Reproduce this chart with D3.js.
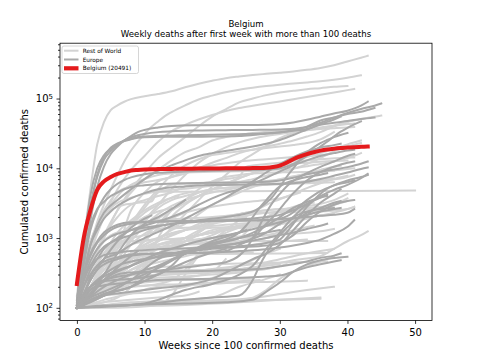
<!DOCTYPE html>
<html>
<head>
<meta charset="utf-8">
<script src="https://cdn.jsdelivr.net/npm/d3@7"></script>
<style>
  body { margin: 0; background: #fff; }
  svg { font-family: "DejaVu Sans", sans-serif; }
</style>
</head>
<body>
<div id="chart"></div>
<script>
'use strict';

// ---- data: cumulated deaths, [week since 100 deaths, deaths] ----
var belgiumDeaths = [220, 1000, 2500, 4900, 6500, 7500, 8300, 8800, 9300, 9480, 9600, 9680,
  9740, 9780, 9810, 9840, 9860, 9880, 9900, 9920, 9940, 9960, 9980, 10000, 10020, 10040,
  10070, 10110, 10200, 10450, 10950, 12000, 13500, 14800, 16000, 17000, 17900, 18600,
  19100, 19500, 19800, 20100, 20300, 20491];

var europe = [
  {name: 'Italy', pts: [[0,110],[1,830],[2,3000],[3,7500],[4,13200],[5,17700],[6,21600],[7,25100],[8,27700],[9,29700],[10,31100],[12,33000],[14,33900],[17,34700],[22,35200],[26,35500],[30,36000],[32,36800],[34,39000],[36,45000],[38,53000],[40,62000],[42,71000],[44,79000],[45,85000]]},
  {name: 'United Kingdom', pts: [[0,100],[1,450],[2,1800],[3,5400],[4,10600],[5,16000],[6,20500],[7,25000],[8,29000],[9,33000],[10,35500],[12,38500],[14,40500],[17,41500],[24,41800],[28,42200],[30,43200],[32,45500],[34,49500],[36,55000],[38,61000],[40,67000],[42,79000],[43,90000]]},
  {name: 'France', pts: [[0,130],[1,670],[2,2600],[3,8000],[4,14400],[5,19700],[6,22800],[7,24800],[8,26400],[9,28000],[10,28500],[12,29100],[16,29800],[20,30300],[24,30800],[28,31700],[30,32800],[32,35000],[34,39500],[36,48500],[38,53500],[40,60000],[42,64500],[44,73000]]},
  {name: 'Spain', pts: [[0,120],[1,830],[2,4100],[3,10000],[4,15400],[5,19100],[6,22000],[7,24500],[8,26000],[9,27300],[10,27900],[14,28300],[20,28500],[24,29000],[26,30000],[28,31400],[30,32600],[32,34500],[34,36500],[36,42000],[38,45000],[40,47500],[42,50800],[44,53500]]},
  {name: 'Germany', pts: [[0,100],[1,400],[2,1300],[3,2500],[4,3800],[5,5000],[6,6000],[7,6800],[8,7400],[10,8200],[12,8600],[16,9000],[20,9200],[24,9400],[28,9600],[30,10000],[31,10600],[32,11600],[33,13000],[34,15000],[35,17500],[36,20500],[37,24000],[38,28500],[39,33500],[40,38000],[41,42500],[42,47000]]},
  {name: 'Netherlands', pts: [[0,110],[1,550],[2,1500],[3,2600],[4,3300],[5,4000],[6,4500],[7,5000],[8,5400],[10,5700],[12,5900],[16,6100],[24,6250],[28,6400],[30,6700],[32,7300],[34,8200],[36,8900],[38,9600],[40,10400],[42,11600],[43,12500]]},
  {name: 'Sweden', pts: [[0,110],[1,300],[2,800],[3,1300],[4,1900],[5,2400],[6,2900],[7,3300],[8,3700],[10,4400],[12,5000],[16,5500],[20,5750],[28,5900],[32,6100],[34,6400],[36,7000],[38,7800],[40,8700],[42,9800],[43,10300]]},
  {name: 'Switzerland', pts: [[0,100],[1,300],[2,600],[3,900],[4,1200],[5,1400],[6,1550],[8,1680],[12,1720],[20,1760],[28,1800],[30,1900],[31,2050],[32,2350],[33,2900],[34,3500],[35,4100],[36,4700],[37,5200],[38,5700],[40,6700],[42,7500],[43,8000]]},
  {name: 'Portugal', pts: [[0,100],[1,260],[2,470],[3,700],[4,900],[5,1050],[6,1150],[8,1300],[12,1500],[16,1650],[20,1750],[24,1850],[28,2000],[30,2150],[32,2500],[34,3100],[36,4000],[38,4900],[40,5800],[42,7200],[43,8300]]},
  {name: 'Ireland', pts: [[0,100],[1,300],[2,550],[3,850],[4,1100],[5,1300],[6,1450],[8,1600],[10,1700],[15,1750],[20,1780],[26,1800],[28,1830],[30,1860],[32,1920],[34,2000],[36,2080],[38,2150],[40,2300],[41,2600]]},
  {name: 'Austria', pts: [[0,100],[1,240],[2,400],[3,500],[4,570],[6,620],[8,650],[12,690],[20,730],[24,760],[28,850],[30,950],[31,1200],[32,1600],[33,2100],[34,2800],[35,3500],[36,4300],[37,5100],[38,5700],[40,6300],[41,6700]]},
  {name: 'Denmark', pts: [[0,100],[1,200],[2,300],[3,400],[4,460],[6,530],[8,580],[12,600],[20,620],[24,650],[28,690],[30,730],[32,780],[34,850],[36,950],[38,1150],[40,1450],[41,1800]]},
  {name: 'Poland', pts: [[0,100],[1,260],[2,400],[3,580],[4,750],[6,950],[8,1100],[10,1300],[14,1600],[18,1800],[22,2000],[26,2400],[27,2700],[28,3200],[29,4000],[30,5400],[31,7500],[32,10000],[33,13300],[34,17000],[35,20000],[36,23000],[37,25500],[38,28000],[40,32000]]},
  {name: 'Romania', pts: [[0,100],[1,200],[2,350],[3,500],[4,700],[6,1000],[8,1300],[10,1500],[14,2000],[16,2400],[18,3000],[20,3700],[22,4400],[24,5000],[26,6000],[28,7300],[30,9000],[32,11000],[34,13000],[36,15000],[38,16500],[40,18000],[41,18500]]},
  {name: 'Russia', pts: [[0,110],[1,300],[2,800],[3,1500],[4,2300],[6,3500],[8,5000],[10,7000],[12,9200],[14,11000],[16,13000],[18,15000],[20,16500],[24,19000],[26,20500],[28,22500],[30,25500],[32,30000],[34,36000],[36,43000],[38,50000],[39,55000]]},
  {name: 'Ukraine', pts: [[0,100],[1,150],[2,280],[3,400],[4,500],[6,600],[8,800],[10,1000],[14,1500],[18,2400],[22,3800],[24,5000],[26,6500],[28,8700],[30,11500],[32,14500],[34,17500],[36,19800],[38,21500],[39,22500]]},
  {name: 'Czechia', pts: [[0,100],[1,160],[2,200],[3,230],[4,250],[8,300],[12,340],[16,380],[20,420],[22,450],[24,560],[25,700],[26,1000],[27,1500],[28,2300],[29,3300],[30,4300],[31,5500],[32,6600],[34,8500],[36,10500],[38,12500],[40,15000],[41,16000]]},
  {name: 'Hungary', pts: [[0,100],[1,150],[2,250],[3,350],[4,420],[6,500],[8,560],[12,600],[20,620],[22,650],[24,800],[26,1000],[28,1600],[29,2000],[30,2600],[31,3400],[32,4400],[33,5500],[34,6700],[35,7800],[36,8800],[38,10500],[40,12000],[41,12500]]},
  {name: 'Serbia', pts: [[0,100],[1,150],[2,200],[4,240],[8,260],[12,300],[14,400],[16,600],[20,700],[24,740],[28,780],[30,850],[32,1100],[34,1700],[36,2400],[38,3000],[40,3400],[41,3500]]},
  {name: 'Greece', pts: [[0,100],[1,110],[2,130],[4,150],[8,170],[12,190],[16,210],[20,260],[24,400],[26,500],[28,600],[30,800],[32,1300],[34,2100],[36,3200],[38,4300],[39,5000]]},
  {name: 'Bulgaria', pts: [[0,100],[2,140],[4,170],[8,250],[12,370],[16,600],[20,850],[22,950],[24,1200],[25,1500],[26,2000],[27,2700],[28,3500],[29,4500],[30,5500],[32,6700],[34,7500],[36,8100],[37,8500]]},
  {name: 'Belarus', pts: [[0,100],[1,150],[2,200],[4,280],[8,400],[12,550],[16,650],[20,750],[24,850],[28,1000],[30,1100],[32,1200],[34,1350],[36,1500],[37,1600]]},
  {name: 'Moldova', pts: [[0,100],[2,150],[4,250],[8,400],[12,600],[16,800],[20,1000],[24,1200],[28,1500],[32,1900],[36,2400],[39,2700]]},
  {name: 'Finland', pts: [[0,100],[1,130],[2,180],[3,210],[4,240],[6,300],[8,320],[12,330],[20,340],[24,350],[28,370],[32,420],[34,460],[36,520],[38,560],[39,600]]},
  {name: 'Norway', pts: [[0,100],[1,140],[2,180],[3,200],[4,210],[8,230],[12,250],[20,260],[28,280],[30,290],[32,330],[34,380],[36,420],[38,460],[39,480]]},
  {name: 'Croatia', pts: [[0,100],[8,110],[10,115],[12,130],[16,180],[20,220],[24,300],[26,400],[28,700],[30,1200],[32,2000],[34,3000],[36,3800],[37,4200]]},
  {name: 'Slovenia', pts: [[0,100],[4,108],[8,110],[16,130],[20,140],[24,150],[26,250],[27,400],[28,600],[30,1100],[32,1700],[34,2300],[36,2700],[38,3200],[39,3400]]},
  {name: 'Bosnia', pts: [[0,100],[2,130],[4,160],[8,200],[12,380],[16,600],[20,800],[24,1000],[28,1500],[30,2000],[32,2700],[34,3300],[36,3800],[37,4000]]},
  {name: 'North Macedonia', pts: [[0,100],[2,120],[4,150],[8,250],[12,500],[16,650],[20,750],[24,850],[28,1200],[30,1600],[32,2000],[34,2400],[36,2600],[38,2700]]},
  {name: 'Luxembourg', pts: [[0,100],[4,105],[8,110],[16,115],[22,120],[26,130],[28,170],[30,230],[32,330],[34,420],[36,480],[40,540]]},
  {name: 'Slovakia', pts: [[0,100],[2,160],[4,300],[6,600],[8,1100],[10,1600],[12,2000],[14,2600],[16,3500]]},
  {name: 'Lithuania', pts: [[0,100],[2,250],[4,500],[6,900],[8,1400],[10,1900],[11,2100]]},
  {name: 'Albania', pts: [[0,100],[4,200],[8,300],[12,400],[16,600],[20,900],[24,1200],[25,1300]]},
  {name: 'Kosovo', pts: [[0,100],[2,200],[4,300],[6,400],[10,500],[16,600],[20,800],[24,1000],[28,1200],[30,1300]]},
  {name: 'Montenegro', pts: [[0,100],[4,150],[8,200],[12,300],[16,450],[20,620],[22,700]]},
  {name: 'Latvia', pts: [[0,100],[4,250],[8,550],[9,650]]}
];

var restOfWorld = [
  {name: 'United States', pts: [[0,150],[1,900],[2,5000],[3,22000],[4,46000],[5,68000],[6,80000],[7,90000],[8,98000],[10,108000],[12,116000],[14,127000],[16,145000],[18,163000],[20,180000],[22,196000],[24,207000],[26,217000],[28,226000],[30,235000],[32,245000],[34,258000],[36,275000],[38,300000],[40,340000],[42,385000],[43,410000]]},
  {name: 'Brazil', pts: [[0,110],[1,300],[2,800],[3,1700],[4,3000],[5,5000],[6,8000],[7,12500],[8,18000],[9,24000],[10,31000],[11,39000],[12,47000],[13,56000],[14,64000],[16,80000],[18,97000],[20,110000],[22,123000],[24,134000],[26,143000],[28,151000],[30,158000],[32,164000],[34,170000],[36,177000],[38,186000],[40,198000],[42,215000]]},
  {name: 'India', pts: [[0,100],[2,400],[4,1100],[6,2500],[8,5000],[10,8500],[12,14000],[14,20000],[16,28000],[18,40000],[20,55000],[22,70000],[24,88000],[26,100000],[28,112000],[30,122000],[32,129000],[34,136000],[36,141000],[38,147000],[40,151000]]},
  {name: 'Mexico', pts: [[0,100],[2,600],[4,2000],[6,5000],[8,9500],[10,15000],[12,24000],[14,34000],[16,42000],[18,50000],[20,58000],[22,66000],[24,73000],[26,79000],[28,85000],[30,91000],[32,98000],[34,105000],[36,113000],[38,122000],[40,132000],[41,137000]]},
  {name: 'Iran', pts: [[0,110],[1,400],[2,900],[3,1500],[4,2500],[5,3500],[6,4500],[8,5500],[10,6300],[12,6800],[14,7500],[16,8400],[18,10000],[20,12000],[22,14000],[24,16500],[26,18500],[28,20500],[30,22500],[32,25000],[34,28500],[36,33000],[38,40000],[40,46000],[42,51000],[44,55000],[45,57000]]},
  {name: 'Peru', pts: [[0,100],[2,400],[4,1000],[6,2500],[8,4500],[10,7000],[12,9500],[14,13000],[16,17000],[18,20000],[20,25000],[22,28000],[24,30000],[26,32000],[28,33500],[30,34500],[32,35300],[34,35900],[36,36500],[38,37500],[40,38500],[41,39000]]},
  {name: 'Colombia', pts: [[0,100],[2,200],[4,400],[6,700],[8,1100],[10,1800],[12,3000],[14,5000],[16,8000],[18,12000],[20,16000],[22,20000],[24,23500],[26,26500],[28,29000],[30,31000],[32,33000],[34,35000],[36,37500],[38,41000],[40,45500]]},
  {name: 'Argentina', pts: [[0,100],[2,180],[4,250],[6,350],[8,450],[10,600],[12,900],[14,1400],[16,2200],[18,3500],[20,5500],[22,8000],[24,12000],[26,16000],[28,21000],[30,27000],[32,32000],[34,36000],[36,38500],[38,40500],[40,43000],[41,44000]]},
  {name: 'South Africa', pts: [[0,100],[2,200],[4,400],[6,800],[8,1600],[10,3000],[12,5000],[14,8000],[16,11000],[18,13500],[20,15500],[22,16500],[24,17500],[26,18500],[28,19500],[30,20500],[32,21500],[34,23000],[36,26000],[38,33000]]},
  {name: 'Chile', pts: [[0,100],[2,200],[4,350],[6,700],[8,2500],[10,4500],[12,6500],[14,7500],[16,9000],[20,11000],[24,12500],[28,13500],[32,14500],[36,15500],[38,16500]]},
  {name: 'Indonesia', pts: [[0,100],[1,200],[2,350],[3,500],[4,600],[6,800],[8,1100],[10,1500],[12,1900],[14,2500],[16,3200],[18,4000],[20,5000],[22,6000],[24,7200],[26,8500],[28,10000],[30,11500],[32,13000],[34,14500],[36,16500],[38,19000],[40,22000],[42,25000]]},
  {name: 'Turkey', pts: [[0,110],[1,300],[2,700],[3,1200],[4,2000],[5,2700],[6,3200],[8,3800],[10,4300],[12,4700],[16,5100],[20,5600],[24,6300],[26,7000],[28,7800],[30,8700],[32,9800],[34,11500],[36,14000],[38,17500],[40,20500],[42,23000]]},
  {name: 'Canada', pts: [[0,100],[1,300],[2,700],[3,1300],[4,2000],[5,3000],[6,4000],[7,5000],[8,5800],[10,7000],[12,8000],[14,8500],[16,8700],[20,8900],[24,9100],[28,9300],[30,9600],[32,10000],[34,10700],[36,11500],[38,12500],[40,14000],[42,16500]]},
  {name: 'Ecuador', pts: [[0,100],[1,200],[2,400],[3,700],[4,1000],[5,1500],[6,2000],[8,3000],[10,3500],[12,4000],[14,4500],[16,5500],[18,6000],[20,6400],[22,7000],[24,7600],[25,10500],[26,11000],[28,11500],[32,12500],[36,13500],[40,14200],[41,14300]]},
  {name: 'China', pts: [[0,100],[1,360],[2,900],[3,1500],[4,2000],[5,2500],[6,2800],[7,3000],[8,3100],[9,3200],[10,3270],[11,3330],[12,4600],[20,4630],[30,4730],[40,4740],[50,4800]]},
  {name: 'Pakistan', pts: [[0,100],[2,200],[4,400],[6,800],[8,1500],[10,2700],[12,4500],[14,5800],[16,6000],[20,6200],[24,6400],[28,6600],[30,6900],[32,7500],[34,8500],[36,9500],[38,10500],[39,10900]]},
  {name: 'Egypt', pts: [[0,100],[4,300],[8,600],[10,900],[12,1400],[14,2500],[16,3500],[18,4500],[20,5000],[24,5400],[28,5800],[32,6100],[36,6600],[40,7500],[41,8000]]},
  {name: 'Philippines', pts: [[0,100],[2,300],[4,450],[6,600],[8,800],[10,900],[12,1000],[14,1300],[16,1600],[18,2200],[20,3000],[22,3700],[24,4500],[26,5400],[28,6200],[30,7000],[32,7700],[34,8300],[36,8800],[38,9300],[40,9800],[41,10000]]},
  {name: 'Iraq', pts: [[0,100],[4,120],[6,140],[8,200],[10,400],[12,1000],[14,2000],[16,3000],[18,4000],[20,5000],[22,6000],[24,7200],[26,8500],[28,9700],[30,10800],[32,11600],[34,12000],[36,12400],[38,12700],[40,12900]]},
  {name: 'Bangladesh', pts: [[0,100],[2,200],[4,300],[6,500],[8,900],[10,1500],[12,2200],[14,2900],[16,3500],[18,4000],[20,4500],[22,4900],[24,5300],[28,5900],[32,6300],[36,6900],[38,7200]]},
  {name: 'Japan', pts: [[0,100],[2,300],[4,500],[6,800],[8,900],[12,950],[16,1000],[18,1100],[20,1200],[22,1400],[24,1500],[28,1600],[30,1700],[32,1900],[34,2100],[36,2500],[38,3000],[40,3700]]},
  {name: 'Saudi Arabia', pts: [[0,100],[2,200],[4,300],[6,500],[8,1000],[10,1700],[12,2700],[14,3500],[16,4000],[18,4500],[20,5000],[24,5400],[28,5800],[32,6000],[36,6200],[38,6300]]},
  {name: 'Israel', pts: [[0,100],[2,170],[4,230],[6,270],[8,290],[12,300],[14,330],[16,400],[18,550],[20,750],[22,950],[24,1200],[26,1500],[28,2000],[30,2400],[32,2600],[36,2800],[38,3000],[40,3400]]},
  {name: 'Morocco', pts: [[0,100],[4,190],[8,200],[12,220],[14,250],[16,350],[18,600],[20,900],[22,1300],[24,1800],[26,2300],[28,3000],[30,3600],[32,4300],[34,5200],[36,6100],[38,7000],[40,7800]]},
  {name: 'Algeria', pts: [[0,100],[2,250],[4,400],[6,500],[8,600],[10,700],[12,800],[14,900],[16,1000],[18,1100],[20,1200],[22,1300],[24,1500],[28,1700],[32,1800],[36,2100],[40,2600],[41,2800]]},
  {name: 'Dominican Republic', pts: [[0,100],[4,300],[8,450],[12,600],[14,700],[16,900],[18,1200],[20,1600],[22,2000],[24,2200],[28,2300],[32,2350],[36,2400],[40,2600],[41,2800]]},
  {name: 'Panama', pts: [[0,100],[4,200],[8,300],[12,500],[16,900],[18,1200],[20,1600],[22,1900],[24,2200],[28,2500],[32,2700],[36,3100],[38,3500],[40,4300]]},
  {name: 'Guatemala', pts: [[0,100],[4,200],[8,800],[12,1500],[16,2300],[20,2800],[24,3200],[28,3500],[30,3700],[33,4500]]},
  {name: 'Honduras', pts: [[0,100],[4,150],[8,300],[12,600],[16,1000],[20,1600],[24,2000],[28,2300],[32,2500],[36,2700],[38,2900]]},
  {name: 'Bolivia', pts: [[0,100],[4,200],[8,500],[10,1000],[12,1600],[14,2500],[16,3500],[18,5000],[20,6500],[22,7500],[24,8000],[26,8400],[28,8600],[32,8800],[36,9000],[38,9300]]},
  {name: 'Afghanistan', pts: [[0,100],[4,200],[8,600],[12,1000],[16,1300],[20,1400],[24,1450],[28,1500],[32,1700],[36,2100],[38,2200]]},
  {name: 'Nigeria', pts: [[0,100],[4,200],[8,400],[12,600],[16,900],[20,1000],[24,1050],[28,1100],[32,1150],[36,1250],[38,1350]]},
  {name: 'Kenya', pts: [[0,100],[4,200],[8,400],[12,600],[16,800],[20,1000],[24,1400],[28,1600],[32,1700]]},
  {name: 'Costa Rica', pts: [[0,100],[4,250],[8,500],[12,900],[16,1300],[20,1700],[24,2200],[26,2400]]},
  {name: 'El Salvador', pts: [[0,100],[4,200],[8,500],[12,700],[16,800],[20,900],[24,1000],[28,1100],[31,1300]]},
  {name: 'Paraguay', pts: [[0,100],[4,300],[8,600],[12,1000],[16,1300],[20,1600],[24,1900],[25,2000]]},
  {name: 'Venezuela', pts: [[0,100],[4,200],[8,350],[12,500],[16,650],[20,750],[24,900],[26,1000]]},
  {name: 'Tunisia', pts: [[0,100],[2,200],[4,400],[6,800],[8,1500],[10,2300],[12,3000],[14,3800],[17,4600]]},
  {name: 'Lebanon', pts: [[0,100],[4,200],[8,350],[12,550],[16,800],[20,1100],[23,1500]]},
  {name: 'Jordan', pts: [[0,100],[2,300],[4,600],[6,1200],[8,1800],[10,2500],[12,3200],[15,4000]]},
  {name: 'Kuwait', pts: [[0,100],[4,200],[8,350],[12,450],[16,550],[20,650],[24,750],[28,850],[32,920],[34,950]]},
  {name: 'Oman', pts: [[0,100],[4,250],[8,500],[12,800],[16,1000],[20,1200],[24,1400],[28,1500],[30,1550]]},
  {name: 'Qatar', pts: [[0,100],[4,150],[8,200],[16,220],[24,240],[27,250]]},
  {name: 'UAE', pts: [[0,100],[4,200],[8,250],[12,300],[16,320],[20,360],[24,400],[28,450],[32,550],[36,650],[38,700]]},
  {name: 'Kazakhstan', pts: [[0,100],[2,200],[4,500],[6,1000],[8,1500],[12,1800],[16,1900],[20,2000],[24,2200],[28,2500],[30,2600]]},
  {name: 'Kyrgyzstan', pts: [[0,100],[2,400],[4,900],[6,1200],[10,1350],[16,1400],[24,1600],[28,1700]]},
  {name: 'Armenia', pts: [[0,100],[4,300],[8,600],[12,800],[16,900],[20,1000],[24,1200],[26,1500],[28,1900],[30,2400],[32,2800],[35,3200]]},
  {name: 'Azerbaijan', pts: [[0,100],[4,300],[8,500],[12,600],[16,700],[20,800],[24,1000],[26,1500],[28,2000],[30,2400],[33,2800]]},
  {name: 'Georgia', pts: [[0,100],[2,300],[4,600],[6,1000],[8,1500],[10,2000],[12,2400],[14,2700]]},
  {name: 'Nepal', pts: [[0,100],[4,300],[8,600],[12,900],[16,1300],[18,1600],[21,1900]]},
  {name: 'Myanmar', pts: [[0,100],[2,200],[4,500],[6,800],[8,1000],[10,1100],[12,1300],[15,1500]]},
  {name: 'Australia', pts: [[0,100],[4,100],[8,102],[12,110],[14,150],[16,300],[18,550],[20,750],[22,870],[24,900],[28,907],[37,909]]},
  {name: 'South Korea', pts: [[0,100],[1,140],[2,170],[3,200],[4,220],[6,250],[8,260],[12,270],[16,280],[20,300],[24,320],[28,420],[30,440],[32,480],[34,510],[36,550],[38,700],[40,900],[42,1100],[43,1250]]},
  {name: 'Cameroon', pts: [[0,100],[4,200],[8,300],[12,380],[16,400],[20,420],[24,430],[28,440],[32,450],[37,460]]},
  {name: 'Sudan', pts: [[0,100],[4,300],[8,500],[12,750],[16,800],[20,830],[24,850],[28,1000],[32,1300],[35,1500]]},
  {name: 'Ethiopia', pts: [[0,100],[4,200],[8,400],[12,700],[16,1000],[20,1200],[24,1400],[28,1600],[29,1700]]},
  {name: 'Ghana', pts: [[0,100],[4,180],[8,250],[12,300],[16,310],[20,320],[24,340],[28,360],[29,380]]},
  {name: 'Senegal', pts: [[0,100],[4,150],[8,220],[12,300],[16,320],[20,330],[24,340],[28,360],[31,420]]},
  {name: 'Malaysia', pts: [[0,100],[4,105],[8,115],[12,122],[16,125],[20,128],[24,133],[26,140],[28,180],[30,260],[32,330],[34,400],[36,460],[38,550]]},
  {name: 'Haiti', pts: [[0,100],[4,130],[8,160],[12,200],[16,210],[20,220],[24,230],[28,235],[32,240],[34,245]]},
  {name: 'Somalia', pts: [[0,100],[8,110],[20,125],[30,130],[36,135]]},
  {name: 'Uzbekistan', pts: [[0,100],[2,200],[4,400],[6,500],[8,550],[12,580],[16,600],[20,610],[26,620]]},
  {name: 'Yemen', pts: [[0,100],[2,200],[4,350],[6,500],[8,550],[12,580],[20,590],[30,600],[37,610]]},
  {name: 'Mali', pts: [[0,100],[4,110],[8,120],[12,125],[16,130],[20,140],[24,200],[28,260],[30,300]]},
  {name: 'Chad', pts: [[0,100],[8,105],[16,110],[24,120],[30,130],[36,140]]},
  {name: 'Niger', pts: [[0,100],[12,115],[24,130],[34,180],[38,200]]},
  {name: 'Zambia', pts: [[0,100],[4,200],[8,300],[12,340],[20,350],[24,360],[26,380]]},
  {name: 'Zimbabwe', pts: [[0,100],[4,180],[8,225],[12,250],[16,270],[20,330],[22,500]]},
  {name: 'Syria', pts: [[0,100],[4,150],[8,250],[12,400],[16,600],[18,700],[20,800]]},
  {name: 'Libya', pts: [[0,100],[4,200],[8,400],[12,600],[16,900],[20,1300],[22,1400]]},
  {name: 'Mauritania', pts: [[0,100],[4,150],[8,160],[12,170],[16,200],[24,350],[28,400],[30,420]]},
  {name: 'Madagascar', pts: [[0,100],[4,200],[8,220],[12,240],[16,250],[20,250],[24,260],[26,260]]},
  {name: 'DR Congo', pts: [[0,100],[4,200],[8,250],[12,290],[16,310],[20,350],[24,400],[28,600],[30,700]]},
  {name: 'Cuba', pts: [[0,100],[4,120],[8,130],[12,140],[16,150],[18,170]]}
];

var xTicks = [0, 10, 20, 30, 40, 50];
var yMajorTicks = [1e2, 1e3, 1e4, 1e5];
var legendLabels = ['Rest of World', 'Europe', 'Belgium (' + belgiumDeaths[belgiumDeaths.length - 1] + ')'];

// ---- layout ----
var width = 480
  , height = 360
  , margin = {left: 60, right: 48, top: 43.2, bottom: 39.6}
  , colors = {world: '#d3d3d3', europe: '#a9a9a9', belgium: '#e41a1c'}
;

var belgium = belgiumDeaths.map(function (v, i) { return [i, v]; });
var allPts = d3.merge(europe.concat(restOfWorld).map(function (c) { return c.pts; })).concat(belgium);

// matplotlib-like 5% margins (log space for y)
var xExt = d3.extent(allPts, function (d) { return d[0]; })
  , xPad = (xExt[1] - xExt[0]) * 0.05
  , lyExt = d3.extent(allPts, function (d) { return Math.log10(d[1]); })
  , lyPad = (lyExt[1] - lyExt[0]) * 0.05
;

var x = d3.scaleLinear()
  .domain([xExt[0] - xPad, xExt[1] + xPad])
  .range([margin.left, width - margin.right]);

var y = d3.scaleLog()
  .domain([Math.pow(10, lyExt[0] - lyPad), Math.pow(10, lyExt[1] + lyPad)])
  .range([height - margin.bottom, margin.top]);

var svg = d3.select('#chart').append('svg')
  .attr('width', width)
  .attr('height', height);

svg.append('defs').append('clipPath').attr('id', 'plot-clip')
  .append('rect')
  .attr('x', margin.left).attr('y', margin.top)
  .attr('width', width - margin.left - margin.right)
  .attr('height', height - margin.top - margin.bottom);

var line = d3.line()
  .x(function (d) { return x(d[0]); })
  .y(function (d) { return y(d[1]); })
  .curve(d3.curveMonotoneX);

var plot = svg.append('g').attr('clip-path', 'url(#plot-clip)');

function drawGroup(data, color, lw) {
  plot.append('g').selectAll('path')
    .data(data)
    .enter()
    .append('path')
    .attr('d', function (c) { return line(c.pts); })
    .attr('fill', 'none')
    .attr('stroke', color)
    .attr('stroke-width', lw)
    .attr('stroke-linejoin', 'round')
    .attr('stroke-linecap', 'square');
}

drawGroup(restOfWorld, colors.world, 2);
drawGroup(europe, colors.europe, 2);
drawGroup([{name: 'Belgium', pts: belgium}], colors.belgium, 4);

// ---- axes ----
var xAxis = svg.append('g')
  .attr('transform', 'translate(0,' + (height - margin.bottom) + ')')
  .call(d3.axisBottom(x).tickValues(xTicks).tickSize(3.5).tickPadding(5).tickFormat(d3.format('d')));

// minor log ticks 2..9 x 10^k inside the domain
var minorTicks = [];
[10, 1e2, 1e3, 1e4, 1e5].forEach(function (p) {
  for (var m = 2; m <= 9; m++) {
    var v = p * m;
    if (v >= y.domain()[0] && v <= y.domain()[1]) minorTicks.push(v);
  }
});

var yMinor = svg.append('g')
  .attr('transform', 'translate(' + margin.left + ',0)')
  .call(d3.axisLeft(y).tickValues(minorTicks).tickSize(2).tickFormat(''));

var yAxis = svg.append('g')
  .attr('transform', 'translate(' + margin.left + ',0)')
  .call(d3.axisLeft(y).tickValues(yMajorTicks).tickSize(3.5).tickPadding(3.5).tickFormat(''));

yAxis.selectAll('.tick').append('text')
  .attr('x', -7)
  .attr('dy', '0.32em')
  .attr('text-anchor', 'end')
  .attr('fill', '#000')
  .each(function (d) {
    var t = d3.select(this);
    t.append('tspan').text('10');
    t.append('tspan').attr('class', 'sup').attr('dy', '-0.45em').text(Math.round(Math.log10(d)));
  });

[xAxis, yAxis, yMinor].forEach(function (g) {
  g.select('.domain').remove();
  g.selectAll('.tick line').attr('stroke', '#000').attr('stroke-width', 0.8);
  g.selectAll('text').attr('font-size', '10px').attr('font-family', '"DejaVu Sans", sans-serif');
});
yAxis.selectAll('tspan.sup').attr('font-size', '7px');

// spines
svg.append('rect')
  .attr('x', margin.left).attr('y', margin.top)
  .attr('width', width - margin.left - margin.right)
  .attr('height', height - margin.top - margin.bottom)
  .attr('fill', 'none')
  .attr('stroke', '#000')
  .attr('stroke-width', 0.8);

// labels
svg.append('text')
  .attr('x', (margin.left + width - margin.right) / 2)
  .attr('y', 349)
  .attr('text-anchor', 'middle')
  .attr('font-size', '10px')
  .text('Weeks since 100 confirmed deaths');

svg.append('text')
  .attr('transform', 'translate(27.5,' + ((margin.top + height - margin.bottom) / 2) + ') rotate(-90)')
  .attr('text-anchor', 'middle')
  .attr('font-size', '10px')
  .text('Cumulated confirmed deaths');

svg.append('text')
  .attr('x', (margin.left + width - margin.right) / 2)
  .attr('y', 27)
  .attr('text-anchor', 'middle')
  .attr('font-size', '8.6px')
  .text('Belgium');

svg.append('text')
  .attr('x', (margin.left + width - margin.right) / 2)
  .attr('y', 37.3)
  .attr('text-anchor', 'middle')
  .attr('font-size', '8.6px')
  .text('Weekly deaths after first week with more than 100 deaths');

// ---- legend ----
var legend = svg.append('g').attr('transform', 'translate(62,46)');

legend.append('rect')
  .attr('width', 76.5)
  .attr('height', 27.5)
  .attr('rx', 2)
  .attr('fill', '#fff')
  .attr('fill-opacity', 0.8)
  .attr('stroke', '#cccccc')
  .attr('stroke-width', 0.8);

var legendStyle = [[colors.world, 2], [colors.europe, 2], [colors.belgium, 4.2]];

var entries = legend.selectAll('g.entry')
  .data(legendLabels)
  .enter()
  .append('g')
  .attr('class', 'entry')
  .attr('transform', function (d, i) { return 'translate(0,' + (4.7 + i * 8.8) + ')'; });

entries.append('line')
  .attr('x1', 2).attr('x2', 16.5)
  .attr('stroke', function (d, i) { return legendStyle[i][0]; })
  .attr('stroke-width', function (d, i) { return legendStyle[i][1]; });

entries.append('text')
  .attr('x', 20.7)
  .attr('dy', '0.35em')
  .attr('font-size', '5.8px')
  .text(function (d) { return d; });
</script>
</body>
</html>
